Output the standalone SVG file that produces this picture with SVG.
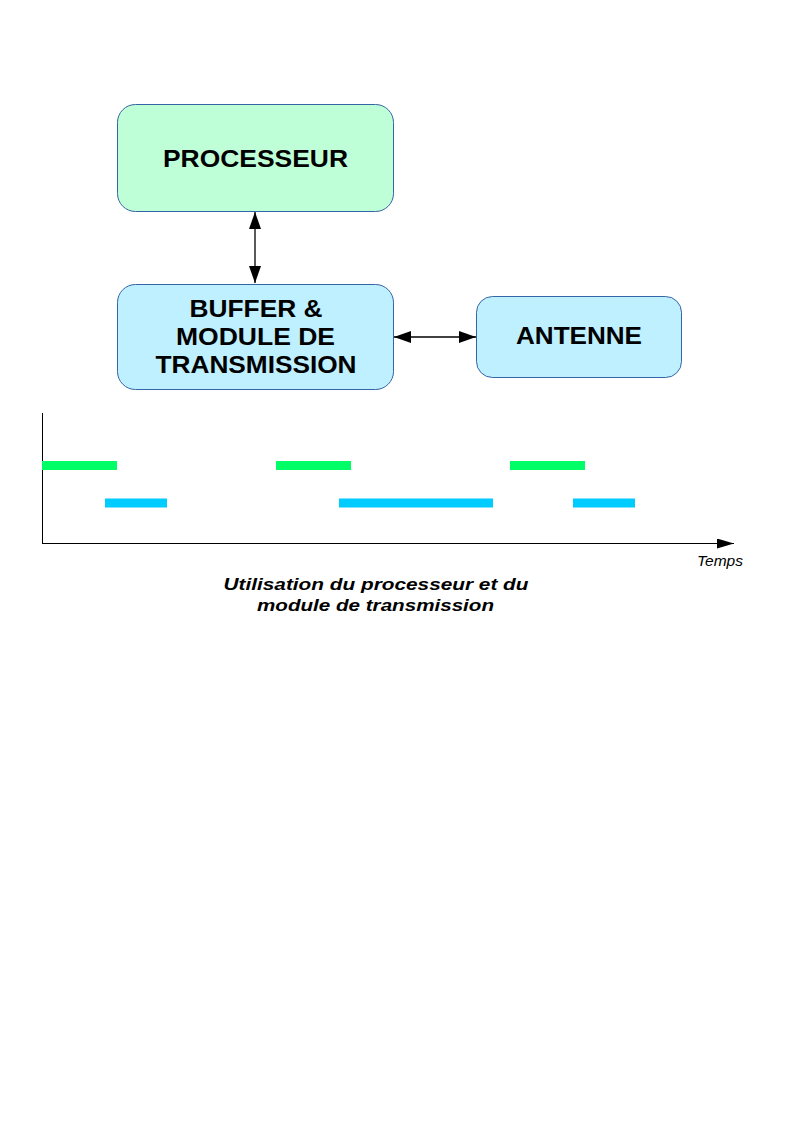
<svg xmlns="http://www.w3.org/2000/svg" width="794" height="1123" viewBox="0 0 794 1123">
<style>
.box{stroke:#3465a4;stroke-width:1}
.g{fill:#bfffd7}
.c{fill:#bff0ff}
.t{font-family:"Liberation Sans",Arial,sans-serif;font-weight:bold;font-size:24px;fill:#000;text-anchor:middle}
.ln{stroke:#000;stroke-width:1.3;fill:none}
.bg{fill:#00ff66}
.bc{fill:#00ccff}
.cap{font-family:"Liberation Sans",Arial,sans-serif;font-style:italic;font-weight:bold;font-size:17px;fill:#000;text-anchor:middle}
</style>
<defs>
<marker id="ah" viewBox="0 0 17 12" refX="17" refY="6" markerWidth="17" markerHeight="12" markerUnits="userSpaceOnUse" orient="auto-start-reverse">
<path d="M0,0 L17,6 L0,12 Z" fill="#000"/>
</marker>
<marker id="ah2" viewBox="0 0 17 10" refX="17" refY="5" markerWidth="17" markerHeight="10" markerUnits="userSpaceOnUse" orient="auto">
<path d="M0,0 L17,5 L0,10 Z" fill="#000"/>
</marker>
</defs>
<rect width="794" height="1123" fill="#fff"/>
<g id="processeur">
<rect class="box g" x="117.5" y="104.5" width="276" height="107" rx="18"/>
<text class="t" x="255.5" y="167" textLength="185" lengthAdjust="spacingAndGlyphs">PROCESSEUR</text>
</g>
<g id="buffer">
<rect class="box c" x="117.5" y="284.5" width="276" height="105" rx="18"/>
<text class="t" x="256" y="316.5" textLength="133" lengthAdjust="spacingAndGlyphs">BUFFER &amp;</text>
<text class="t" x="255.5" y="345" textLength="159" lengthAdjust="spacingAndGlyphs">MODULE DE</text>
<text class="t" x="256" y="373" textLength="201" lengthAdjust="spacingAndGlyphs">TRANSMISSION</text>
</g>
<g id="antenne">
<rect class="box c" x="476.5" y="296.5" width="205" height="81" rx="16"/>
<text class="t" x="579" y="344" textLength="126" lengthAdjust="spacingAndGlyphs">ANTENNE</text>
</g>
<g id="connectors">
<line class="ln" x1="255" y1="212" x2="255" y2="283" marker-start="url(#ah)" marker-end="url(#ah)"/>
<line class="ln" x1="394" y1="337" x2="476" y2="337" marker-start="url(#ah)" marker-end="url(#ah)"/>
</g>
<g id="chart">
<line x1="42.5" y1="413" x2="42.5" y2="543.5" stroke="#000" stroke-width="1"/>
<line x1="42" y1="543.5" x2="734" y2="543.5" stroke="#000" stroke-width="1" marker-end="url(#ah2)"/>
<rect class="bg" x="42" y="461" width="75" height="9"/>
<rect class="bg" x="276" y="461" width="75" height="9"/>
<rect class="bg" x="510" y="461" width="75" height="9"/>
<rect class="bc" x="105" y="498.5" width="62" height="9"/>
<rect class="bc" x="339" y="498.5" width="154" height="9"/>
<rect class="bc" x="573" y="498.5" width="62" height="9"/>
<text x="697" y="566" font-family="Liberation Sans, Arial, sans-serif" font-style="italic" font-size="14" fill="#000" textLength="46" lengthAdjust="spacingAndGlyphs">Temps</text>
<text class="cap" x="376" y="589.5" textLength="305" lengthAdjust="spacingAndGlyphs">Utilisation du processeur et du</text>
<text class="cap" x="375.5" y="611" textLength="237" lengthAdjust="spacingAndGlyphs">module de transmission</text>
</g>
</svg>
